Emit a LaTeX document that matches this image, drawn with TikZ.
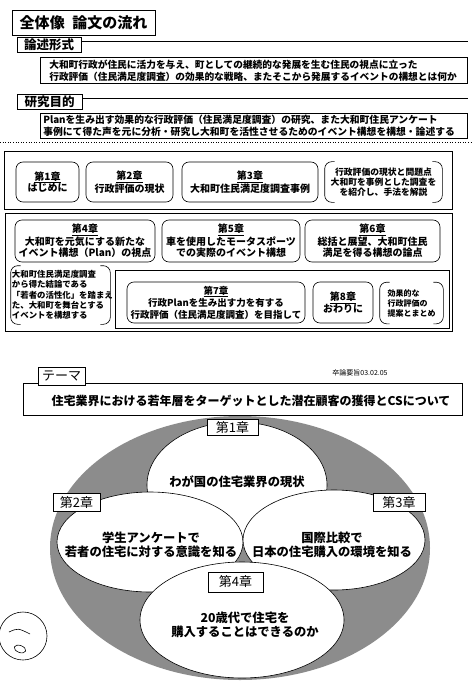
\documentclass[tikz,border=0pt]{standalone}
\usepackage{fontspec}
\setmainfont{Noto Sans CJK JP}
\tikzset{every path/.style={semithick}}
\tikzset{
  outerframe/.style={thick},
  headbox/.style={draw, fill=white, inner sep=0pt, font=\fontsize{12.5}{14}\selectfont\bfseries},
  textbox/.style={draw, anchor=north west, align=left, inner ysep=0pt, font=\fontsize{9.7}{12}\selectfont\bfseries},
  chapbox/.style={draw, rounded corners=7pt, align=center, inner sep=0pt, font=\fontsize{10}{11.5}\selectfont\bfseries},
  notebox/.style={inner sep=0pt, font=\fontsize{8.8}{10.2}\selectfont\bfseries},
  tagbox/.style={draw, fill=white, inner sep=0pt, minimum height=18pt, font=\fontsize{13}{14}\selectfont},
  bubbletext/.style={align=center, font=\fontsize{12.3}{14.5}\selectfont\bfseries}
}
\newcommand{\parens}[1]{
  \draw[rounded corners=7pt] ([xshift=10pt]#1.north west) -- (#1.north west) -- (#1.south west) -- ([xshift=10pt]#1.south west);
  \draw[rounded corners=7pt] ([xshift=-10pt]#1.north east) -- (#1.north east) -- (#1.south east) -- ([xshift=-10pt]#1.south east);
}
\begin{document}
\begin{tikzpicture}[x=1pt,y=-1pt]
  \useasboundingbox (0,0) rectangle (473,687);

  % upper half: outline of the thesis
  \node[draw, minimum width=143pt, minimum height=25pt, inner sep=0pt, font=\fontsize{15}{16}\selectfont\bfseries] (overview) at (83.5,22.5) {全体像\hspace{0.5em}論文の流れ};

  \node[headbox, minimum width=64pt, minimum height=15pt] (form) at (49,44.5) {論述形式};
  \draw ([yshift=3.5pt]form.east) -- (468,41);
  \node[textbox, text width=409pt, inner xsep=9pt, minimum height=26pt] (formtext) at (40,57)
    {大和町行政が住民に活力を与え、町としての継続的な発展を生む住民の視点に立った\\行政評価（住民満足度調査）の効果的な戦略、またそこから発展するイベントの構想とは何か};

  \node[headbox, minimum width=65pt, minimum height=15pt] (aim) at (49.5,101.5) {研究目的};
  \draw ([yshift=3.5pt]aim.east) -- (468,98);
  \node[textbox, text width=421pt, inner xsep=3pt, minimum height=25pt, font=\fontsize{9.8}{12}\selectfont\bfseries] (aimtext) at (40,113)
    {Planを生み出す効果的な行政評価（住民満足度調査）の研究、また大和町住民アンケート\\事例にて得た声を元に分析・研究し大和町を活性させるためのイベント構想を構想・論述する};

  \draw[dotted] (0,142) -- (473,142);

  \begin{scope}
    \draw[outerframe] (4,151) rectangle (452,209);
    \node[chapbox, minimum width=63pt, minimum height=40pt] (c1) at (47.5,182) {\underline{第1章}\\はじめに};
    \node[chapbox, minimum width=87pt, minimum height=40pt] (c2) at (129.5,182) {\underline{第2章}\\行政評価の現状};
    \node[chapbox, minimum width=136pt, minimum height=40pt] (c3) at (250,182) {\underline{第3章}\\大和町住民満足度調査事例};
    \node[notebox, align=center, minimum width=117pt, minimum height=40pt] (n1) at (383.5,182) {行政評価の現状と問題点\\大和町を事例とした調査を\\を紹介し、手法を解説};
    \parens{n1}
  \end{scope}

  \begin{scope}
    \draw[outerframe] (5,213) rectangle (452,331);
    \node[chapbox, minimum width=140pt, minimum height=42pt] (c4) at (85,241) {\underline{第4章}\\大和町を元気にする新たな\\イベント構想（Plan）の視点};
    \node[chapbox, minimum width=138pt, minimum height=42pt] (c5) at (231,241) {\underline{第5章}\\車を使用したモータスポーツ\\での実際のイベント構想};
    \node[chapbox, minimum width=135pt, minimum height=42pt] (c6) at (372.5,241) {\underline{第6章}\\総括と展望、大和町住民\\満足を得る構想の論点};
    \node[notebox, align=left, text width=97pt, inner xsep=1pt, minimum height=58pt, font=\fontsize{8.4}{10.3}\selectfont\bfseries] (n2) at (60.5,295)
      {大和町住民満足度調査\\から得た結論である\\「若者の活性化」を踏まえ\\た、大和町を舞台とする\\イベントを構想する};
    \parens{n2}
    \draw (115,270) rectangle (449,328);
    \node[chapbox, minimum width=178pt, minimum height=41pt, font=\fontsize{9.5}{12}\selectfont\bfseries] (c7) at (216,302.5) {\underline{第7章}\\行政Planを生み出す力を有する\\行政評価（住民満足度調査）を目指して};
    \node[chapbox, minimum width=60pt, minimum height=41pt] (c8) at (343,302.5) {\underline{第8章}\\おわりに};
    \node[notebox, align=left, text width=48pt, inner xsep=7.5pt, minimum height=41pt, font=\fontsize{8}{10}\selectfont\bfseries] (n3) at (411.5,303) {効果的な\\行政評価の\\提案とまとめ};
    \parens{n3}
  \end{scope}

  % lower half: theme
  \node[font=\fontsize{7}{8}\selectfont] (date) at (360,373) {卒論要旨03.02.05};
  \node[draw, minimum width=439pt, minimum height=32pt] (themebox) at (242.5,399) {};
  \node[font=\fontsize{12}{14}\selectfont\bfseries] (themetext) at (251,401) {住宅業界における若年層をターゲットとした潜在顧客の獲得とCSについて};
  \node[tagbox, minimum width=47pt] (themetag) at (61.5,376) {テーマ};

  \fill[black!45] (240,548) ellipse [x radius=190pt, y radius=132pt];
  \filldraw[fill=white] (237,485) ellipse [x radius=90pt, y radius=63pt];
  \filldraw[fill=white] (150,542) ellipse [x radius=93pt, y radius=50pt];
  \filldraw[fill=white] (334,540) ellipse [x radius=91pt, y radius=50pt];
  \filldraw[fill=white] (242,620) ellipse [x radius=102pt, y radius=58pt];

  \node[tagbox, minimum width=51pt, minimum height=16pt] (t1) at (232.5,427.5) {第1章};
  \node[tagbox, minimum width=47pt] (t2) at (76.5,502.5) {第2章};
  \node[tagbox, minimum width=52pt] (t3) at (399,502.5) {第3章};
  \node[tagbox, minimum width=55pt, minimum height=20pt] (t4) at (235.5,582) {第4章};

  \node[bubbletext] (b1) at (237,482) {わが国の住宅業界の現状};
  \node[bubbletext] (b2) at (151,545) {学生アンケートで\\若者の住宅に対する意識を知る};
  \node[bubbletext] (b3) at (332,545) {国際比較で\\日本の住宅購入の環境を知る};
  \node[bubbletext] (b4) at (245,625) {20歳代で住宅を\\購入することはできるのか};

  % hand mark
  \draw (23,636) circle [radius=24pt];
  \draw (9,632) .. controls (18,628) .. (30,634);
  \draw[rotate around={-20:(20,649)}] (20,649) ellipse [x radius=6pt, y radius=3.5pt];
\end{tikzpicture}
\end{document}
